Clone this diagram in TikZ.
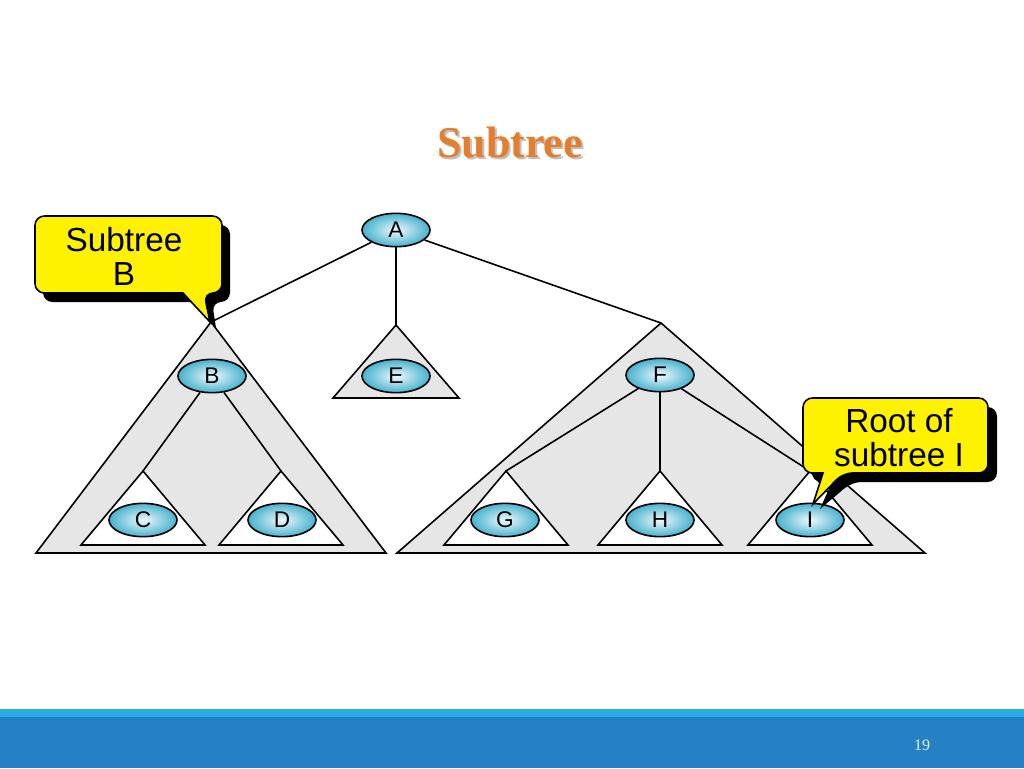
\documentclass[tikz,border=0pt]{standalone}
\usepackage{fontspec}
\setmainfont{Liberation Sans}
\newfontfamily\titlefont{Liberation Serif}
\usetikzlibrary{shapes.geometric}

\definecolor{nodeblue}{HTML}{45B2CE}
\definecolor{treegray}{HTML}{E6E6E6}
\definecolor{titleorange}{HTML}{E47D2C}
\definecolor{barlight}{HTML}{2AADE3}
\definecolor{bardark}{HTML}{2681C4}

\tikzstyle{vertex}=[ellipse,draw,line width=1.2pt,shading=radial,inner color=nodeblue!8,outer color=nodeblue,minimum width=51pt,minimum height=25pt,inner sep=0pt,font=\fontsize{17}{17}\selectfont]
\tikzstyle{subtree}=[draw,line width=1.2pt,fill=treegray]
\tikzstyle{leaf tree}=[subtree,fill=white]
\tikzstyle{edge}=[draw,line width=1.2pt,-]
\tikzstyle{callout}=[draw,line width=1.2pt,fill=yellow]
\tikzstyle{callout shadow}=[fill=black]
\tikzstyle{callout text}=[align=center,font=\fontsize{25}{25.5}\selectfont]

\begin{document}
\begin{tikzpicture}[x=0.75pt,y=-0.75pt]
    \useasboundingbox (0,0) rectangle (1024,768);
    % footer
    \fill[barlight] (0,709) rectangle (1024,717);
    \fill[bardark] (0,717) rectangle (1024,768);
    \node[text=white!85!barlight,font=\titlefont\fontsize{12}{12}\selectfont] (page) at (922,745) {19};
    % title
    \node[text=black!25,font=\titlefont\bfseries\fontsize{33}{33}\selectfont] at (512,144) {Subtree};
    \node[text=titleorange,font=\titlefont\bfseries\fontsize{33}{33}\selectfont] (title) at (510,142) {Subtree};
    % subtrees
    \foreach \name/\x/\y/\w/\h in {B/211/322/175/231, E/396/325/63/73, F/661/323/264/230} {
        \coordinate (t\name) at (\x,\y);
        \path[subtree] (t\name) -- ++(-\w,\h) -- ++({2*\w},0) -- cycle;
    }
    \foreach \name/\x in {C/143, D/281, G/506, H/660, I/810} {
        \coordinate (t\name) at (\x,471);
        \path[leaf tree] (t\name) -- ++(-62,74) -- ++(124,0) -- cycle;
    }
    \foreach \pos/\name in {{(396,230)/A}, {(212,376)/B}, {(396,376)/E}, {(660,375)/F},
                            {(143,520)/C}, {(282,520)/D}, {(505,520)/G}, {(660,520)/H}, {(810,520)/I}}
        \node[vertex] (\name) at \pos {\name};
    \foreach \source/ \dest in {A/tB, A/tE, A/tF, B/tC, B/tD, F/tG, F/tH, F/tI}
        \path[edge] (\source) -- (\dest);
    % callouts
    \path[callout shadow] (128,225) [rounded corners=7pt] -- (230,225) -- (230,302) -- (212,302)
        [sharp corners] -- (216,328) -- (191,302) [rounded corners=7pt] -- (43,302) -- (43,225) -- cycle;
    \path[callout] (120,216) [rounded corners=7pt] -- (222,216) -- (222,293) -- (204,293)
        [sharp corners] -- (210,322) -- (183,293) [rounded corners=7pt] -- (35,293) -- (35,216) -- cycle;
    \node[callout text] (subB) at (124,256) {Subtree\\B};
    \path[callout shadow] (905,407) [rounded corners=7pt] -- (997,407) -- (997,482) -- (852,482)
        [sharp corners] -- (820,509) -- (832,482) [rounded corners=7pt] -- (812,482) -- (812,407) -- cycle;
    \path[callout] (896,398) [rounded corners=7pt] -- (988,398) -- (988,473) -- (843,473)
        [sharp corners] -- (813,504) -- (823,473) [rounded corners=7pt] -- (803,473) -- (803,398) -- cycle;
    \node[callout text] (rootI) at (899,438) {Root of\\subtree I};
\end{tikzpicture}
\end{document}
